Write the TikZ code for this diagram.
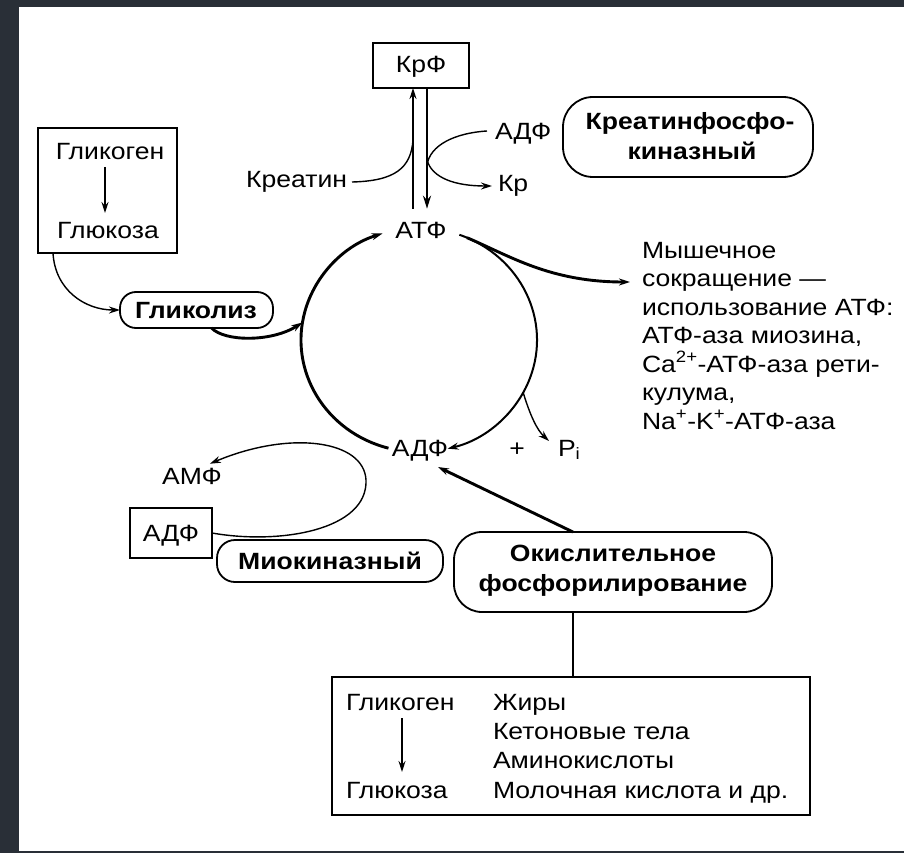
\documentclass[tikz,border=0pt]{standalone}
\usepackage{fontspec}
\setmainfont{Liberation Sans}[FakeStretch=1.13]
\usetikzlibrary{arrows.meta,calc}
\definecolor{frame}{RGB}{41,47,55}
\begin{document}
\begin{tikzpicture}[x=1pt,y=-1pt,
  every node/.style={inner sep=0pt, outer sep=0pt},
  lbl/.style={font=\fontsize{23.5}{27}\selectfont},
  bld/.style={font=\bfseries\fontsize{23.5}{30}\selectfont},
  sqbox/.style={draw, line width=1.8pt},
  rbox/.style={draw, line width=1.8pt},
  thin/.style={line width=1.4pt},
  mid/.style={line width=2pt},
  thk/.style={line width=2.9pt},
  tip/.style={-{Stealth[length=11pt,width=7pt]}},
  tipb/.style={-{Stealth[length=13pt,width=8pt]}},
]
\useasboundingbox (0,0) rectangle (904,853);
\fill[frame] (0,0) rectangle (904,853);
\fill[white] (19,7) rectangle (904,851);

% ---------- KrF / creatine kinase ----------
\node[sqbox, minimum width=96, minimum height=45] (krfbox) at (421,65.5) {};
\node[lbl, anchor=base] (krf) at (421,73) {КрФ};
\node[lbl, anchor=base] (atf) at (421,238) {АТФ};
\draw[thin, tip] ([xshift=-8,yshift=13]atf.north) -- ([xshift=-8]krfbox.south);
\draw[thk, tipb] ([xshift=6]krfbox.south) -- ([xshift=6,yshift=13]atf.north);

\node[lbl, anchor=base east] (kreatin) at (347,188) {Креатин};
\draw[thin] ([xshift=5,yshift=6]kreatin.base east) .. controls (395,181) and (411,168) .. (413,140);

\node[lbl, anchor=base west] (adf1) at (495,140) {АДФ};
\draw[thin] ([xshift=-8,yshift=9]adf1.base west) .. controls (455,133) and (430,145) .. (427,165);

\node[lbl, anchor=base west] (kr) at (498,192) {Кр};
\draw[thin, tip] (427,160) .. controls (432,178) and (455,186) .. ([xshift=-6,yshift=6]kr.base west);

\node[rbox, rounded corners=30pt, minimum width=250, minimum height=80] (ckbox) at (688,137) {};
\node[bld, anchor=base] (ck1) at (690,130) {Креатинфосфо-};
\node[bld, anchor=base] (ck2) at (692,160) {киназный};

% ---------- glycogen / glycolysis ----------
\node[sqbox, minimum width=139, minimum height=125] (gbox) at (107.5,190.5) {};
\node[lbl, anchor=base] (glyk1) at (110,160) {Гликоген};
\node[lbl, anchor=base] (gluc1) at (108,238) {Глюкоза};
\draw[thin, tip] (105,167) -- (105,213);

\node[rbox, rounded corners=16pt, minimum width=153, minimum height=36] (glikbox) at (196.5,310) {};
\node[bld, anchor=base] (glik) at (196,318) {Гликолиз};
\draw[thin, tip] ([xshift=15]gbox.south west) .. controls (55,290) and (85,310) .. (glikbox.west);

% ---------- ATP/ADP cycle ----------
\coordinate (C) at (419,340);
\coordinate (cL) at ($(C)+(189:118 and 112)$);
\draw[thk, tip] ([xshift=15]glikbox.south) .. controls (225,342) and (272,342) .. (cL);
\draw[thk, tip] ($(C)+(105:118 and 112)$) arc[start angle=105, end angle=252, x radius=118, y radius=112];
\draw[mid, tip] ($(C)+(-70:118 and 112)$) arc[start angle=-70, end angle=76, x radius=118, y radius=112];

\node[lbl, anchor=base] (adf2) at (420,456) {АДФ};
\node[lbl, anchor=base] (plus) at (517,456) {+};
\node[lbl, anchor=base west] (pi) at (558,456) {P\textsubscript{i}};
\draw[thin, tip] ($(C)+(28:118 and 112)$) .. controls (530,415) and (537,430) .. ([xshift=-9,yshift=15]pi.base west);

% ---------- muscle contraction ----------
\coordinate (mtip) at (630,282);
\draw[thk, tip] ($(C)+(-66:118 and 112)$) .. controls (510,256) and (550,282) .. (mtip);
\foreach \t [count=\i] in {Мышечное, сокращение —, использование АТФ:, АТФ-аза миозина{,}, Ca\textsuperscript{2+}-АТФ-аза рети-, кулума{,}, Na\textsuperscript{+}-K\textsuperscript{+}-АТФ-аза}
  \node[lbl, anchor=base west] (m\i) at (642,{258+28.5*(\i-1)}) {\t};

% ---------- myokinase ----------
\node[lbl, anchor=base] (amf) at (192,484) {АМФ};
\node[sqbox, minimum width=82, minimum height=50] (adf3box) at (171,533) {};
\node[lbl, anchor=base] (adf3) at (171,541) {АДФ};
\draw[thin, tip] (adf3box.east) .. controls (280,545) and (368,530) .. (366,480)
  .. controls (364,440) and (290,430) .. ([xshift=-12,yshift=4]amf.north east);
\node[rbox, rounded corners=18pt, minimum width=226, minimum height=42] (miobox) at (330,561) {};
\node[bld, anchor=base] (mio) at (330,569) {Миокиназный};

% ---------- oxidative phosphorylation ----------
\node[rbox, rounded corners=28pt, minimum width=318, minimum height=80] (oxbox) at (613,572) {};
\node[bld, anchor=base] (ox1) at (613,561) {Окислительное};
\node[bld, anchor=base] (ox2) at (613,591) {фосфорилирование};
\coordinate (adfin) at (438,467);
\draw[thk, tip] ([xshift=-40]oxbox.north) -- (adfin);

\node[sqbox, minimum width=478, minimum height=138] (botbox) at (571,746) {};
\draw[thk] ([xshift=-40]oxbox.south) -- ([xshift=-40]oxbox.south |- botbox.north);

\node[lbl, anchor=base west] (glyk2) at (346,710) {Гликоген};
\node[lbl, anchor=base west] (gluc2) at (346,798) {Глюкоза};
\draw[thin, tip] (402,718) -- (402,772);
\node[lbl, anchor=base west] (s1) at (493,710) {Жиры};
\node[lbl, anchor=base west] (s2) at (493,739) {Кетоновые тела};
\node[lbl, anchor=base west] (s3) at (493,768) {Аминокислоты};
\node[lbl, anchor=base west] (s4) at (493,798) {Молочная кислота и др.};
\end{tikzpicture}
\end{document}
